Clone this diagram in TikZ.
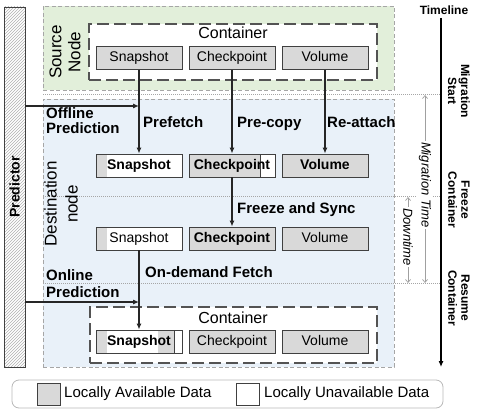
\documentclass[tikz,border=0pt]{standalone}
\usepackage{fontspec}
\setmainfont{Liberation Sans}
\usetikzlibrary{arrows.meta,patterns}
\definecolor{boxgray}{HTML}{D9D9D9}
\definecolor{boxline}{HTML}{404040}
\definecolor{srcgreen}{HTML}{E2EFDA}
\definecolor{dstblue}{HTML}{E9F1F9}
\definecolor{regline}{HTML}{A6A6A6}
\definecolor{hatchgray}{HTML}{B0B0B0}
\definecolor{tlgray}{HTML}{A0A0A0}
\tikzset{
  fs/.style={font=\fontsize{#1}{#1}\selectfont},
  region/.style={draw=regline, line width=0.8pt, dash pattern=on 4pt off 2.5pt},
  contbox/.style={draw=boxline!90, fill=white, line width=1.1pt, dash pattern=on 12pt off 5pt},
  dbox/.style={draw=boxline, line width=0.9pt, minimum width=86pt, minimum height=23pt, inner sep=0pt,
    text height=10pt, text depth=3pt, font=\fontsize{14}{16}\selectfont},
  avail/.style={dbox, fill=boxgray},
  unavail/.style={dbox, fill=white},
  bx/.style={font=\fontsize{14}{16}\selectfont\bfseries},
  leftgray/.style={path picture={\fill[boxgray] (path picture bounding box.north west) rectangle ([xshift=11pt]path picture bounding box.south west);}},
  rightwhite/.style={path picture={\fill[white] ([xshift=-15pt]path picture bounding box.north east) rectangle (path picture bounding box.south east);
     \draw[boxline, line width=0.6pt] ([xshift=-15pt]path picture bounding box.north east) -- ([xshift=-15pt]path picture bounding box.south east);}},
  twogray/.style={path picture={\fill[boxgray] (path picture bounding box.north west) rectangle ([xshift=11pt]path picture bounding box.south west);
     \fill[boxgray] ([xshift=62pt]path picture bounding box.north west) rectangle ([xshift=78pt]path picture bounding box.south west);
     \draw[boxline, line width=0.6pt] ([xshift=78pt]path picture bounding box.north west) -- ([xshift=78pt]path picture bounding box.south west);}},
  lbl/.style={anchor=west, inner sep=0pt, text height=10.7pt, text depth=0pt, font=\fontsize{15}{15}\selectfont\bfseries},
  arr/.style={draw=black!85, line width=1.1pt, -{Latex[length=6pt,width=5pt]}},
  garr/.style={draw=tlgray, line width=0.7pt, {Straight Barb[length=3pt,width=5pt]}-{Straight Barb[length=3pt,width=5pt]}},
  dotl/.style={draw=regline, line width=0.8pt, dash pattern=on 1pt off 1pt},
  tltext/.style={rotate=-90, align=center, inner sep=0pt, font=\fontsize{12}{13}\selectfont\bfseries},
  gtext/.style={rotate=-90, fill=white, inner sep=1.5pt, font=\fontsize{13}{13}\selectfont\itshape}
}
\begin{document}
\begin{tikzpicture}[x=1pt,y=-1pt]
\useasboundingbox (0,0) rectangle (478,414);
% regions
\node[region, fill=srcgreen, minimum width=351pt, minimum height=84pt, inner sep=0pt] (src) at (218.5,48) {};
\node[region, fill=dstblue, minimum width=351pt, minimum height=268pt, inner sep=0pt] (dst) at (218.5,233) {};
% dotted event lines
\coordinate (e1a) at (43,94);  \coordinate (e1b) at (441,94);
\coordinate (e2a) at (43,196); \coordinate (e2b) at (441,196);
\coordinate (e3a) at (43,283); \coordinate (e3b) at (441,283);
\draw[dotl] (e1a) -- (e1b);
\draw[dotl] (e2a) -- (e2b);
\draw[dotl] (e3a) -- (e3b);
% region labels
\node[rotate=90, align=center, inner sep=0pt, font=\fontsize{17}{19}\selectfont] (srclbl) at (65,52) {Source\\Node};
\node[rotate=90, align=center, inner sep=0pt, font=\fontsize{17}{21}\selectfont] (dstlbl) at (61,204) {Destination\\node};
% predictor
\node[draw=boxline, line width=0.9pt, pattern=north east lines, pattern color=hatchgray, minimum width=21pt, minimum height=360pt, inner sep=0pt] (pred) at (14.5,187) {};
\node[rotate=90, inner sep=0pt, font=\fontsize{14}{14}\selectfont\bfseries] (predlbl) at (pred.center) {Predictor};
% source container
\node[contbox, minimum width=288pt, minimum height=56pt, inner sep=0pt] (c1) at (233,52) {};
\node[inner sep=0pt, font=\fontsize{16}{16}\selectfont] (c1t) at (233,33) {Container};
\node[avail] (s1) at (139,58) {Snapshot};
\node[avail] (s2) at (232,58) {Checkpoint};
\node[avail] (s3) at (325,58) {Volume};
% destination row 1
\node[unavail, leftgray] (a1) at (139,165.5) {\bfseries Snapshot};
\node[avail, rightwhite] (a2) at (232,165.5) {\bfseries Checkpoint};
\node[avail] (a3) at (325,165.5) {\bfseries Volume};
% destination row 2
\node[unavail, leftgray] (b1) at (139,238.5) {Snapshot};
\node[avail] (b2) at (232,238.5) {\bfseries Checkpoint};
\node[avail] (b3) at (325,238.5) {Volume};
% bottom container
\node[contbox, minimum width=287pt, minimum height=56pt, inner sep=0pt] (c2) at (233.5,335) {};
\node[inner sep=0pt, font=\fontsize{16}{16}\selectfont] (c2t) at (233,318) {Container};
\node[unavail, twogray] (f1) at (139,341.5) {\bfseries Snapshot};
\node[avail] (f2) at (232,341.5) {Checkpoint};
\node[avail] (f3) at (325,341.5) {Volume};
% arrows
\draw[arr] (s1.south) -- (a1.north);
\draw[arr] (s2.south) -- (a2.north);
\draw[arr] (s3.south) -- (a3.north);
\draw[arr] (a2.south) -- (b2.north);
\draw[arr] (b1.south) -- (f1.north);
\coordinate (p1) at (139,106);
\coordinate (p2) at (139,302);
\draw[arr] (pred.east |- p1) -- (p1);
\draw[arr] (pred.east |- p2) -- (p2);
% labels
\node[lbl] (l1) at (46,113) {Offline};
\node[lbl] (l2) at (46,128) {Prediction};
\node[lbl] (l3) at (143,122) {Prefetch};
\node[lbl] (l4) at (237,122) {Pre-copy};
\node[lbl] (l5) at (327,122) {Re-attach};
\node[lbl] (l6) at (237,208.5) {Freeze and Sync};
\node[lbl] (l7) at (145,272) {On-demand Fetch};
\node[lbl] (l8) at (46,275) {Online};
\node[lbl] (l9) at (46,292.5) {Prediction};
% timeline
\node[inner sep=0pt, font=\fontsize{12}{12}\selectfont\bfseries] (tl) at (444,10) {Timeline};
\coordinate (t0) at (441,18);
\coordinate (t1) at (441,367);
\draw[draw=black, line width=1.1pt, -{Latex[length=6pt,width=5pt]}] (t0) -- (t1);
\node[tltext] (ev1) at (459,91) {Migration\\Start};
\node[tltext] (ev2) at (459,200) {Freeze\\Container};
\node[tltext] (ev3) at (459,298) {Resume\\Container};
\coordinate (m0) at (425,95);
\coordinate (m1) at (425,283);
\draw[garr] (m0) -- (m1);
\node[gtext] (mt) at (425,185) {Migration Time};
\coordinate (d0) at (408,197);
\coordinate (d1) at (408,283);
\draw[garr] (d0) -- (d1);
\node[gtext] (dt) at (408,237) {Downtime};
% legend
\node[draw=regline!80, line width=0.8pt, rounded corners=7pt, minimum width=431pt, minimum height=28pt, inner sep=0pt] (leg) at (227.5,394) {};
\node[draw=boxline, line width=0.9pt, fill=boxgray, minimum width=23pt, minimum height=22pt, inner sep=0pt] (sw1) at (48.5,394) {};
\node[draw=boxline, line width=0.9pt, fill=white, minimum width=23pt, minimum height=22pt, inner sep=0pt] (sw2) at (247.5,394) {};
\node[anchor=west, inner sep=0pt, font=\fontsize{15}{15}\selectfont] (lg1) at (64,394) {Locally Available Data};
\node[anchor=west, inner sep=0pt, font=\fontsize{15}{15}\selectfont] (lg2) at (264,394) {Locally Unavailable Data};
\end{tikzpicture}
\end{document}
